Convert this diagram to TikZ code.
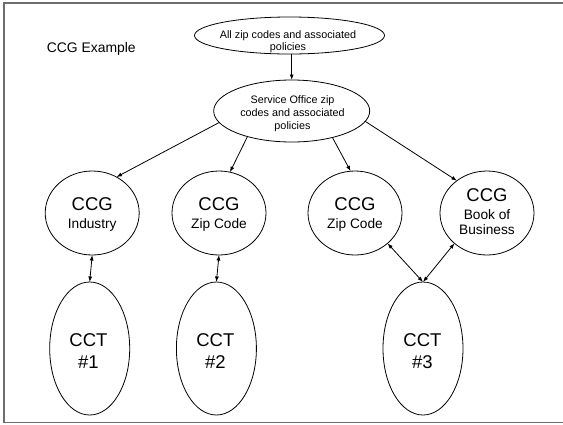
\documentclass[tikz,border=0pt]{standalone}
\usepackage{fontspec}
\setmainfont{Liberation Sans}
\usetikzlibrary{shapes.geometric,arrows.meta}
\definecolor{framecol}{RGB}{110,110,110}
\begin{document}
\begin{tikzpicture}[x=1pt,y=-1pt,
  outline/.style={draw, ellipse, line width=0.8pt, inner sep=0pt, outer sep=0pt},
  ccgshape/.style={outline, minimum width=94pt, minimum height=84pt},
  cctshape/.style={outline, minimum width=80pt, minimum height=133pt},
  lbl/.style={align=center, inner sep=0pt},
  ccgtext/.style={lbl, font=\fontsize{13.7}{18}\selectfont},
  big/.style={font=\fontsize{18.5}{18}\selectfont},
  tip/.style={Latex[length=5.5pt,width=4pt]},
  link/.style={line width=0.8pt, -{Latex[length=5.5pt,width=4pt]}},
  twoway/.style={line width=0.8pt, {Latex[length=5.5pt,width=4pt]}-{Latex[length=5.5pt,width=4pt]}},
]
\useasboundingbox (0,0) rectangle (563,424);
% outer frame
\draw[framecol, line width=1.6pt] (4,2.7) rectangle (566,422.3);

% title
\node[anchor=base west, inner sep=0pt, font=\fontsize{13.9}{16}\selectfont] (title) at (46.7,52) {CCG Example};

% top level
\node[outline, minimum width=190pt, minimum height=37pt] (all) at (289.5,35.5) {};
\node[lbl, font=\fontsize{10.8}{12.4}\selectfont] (allt) at (288,41.9) {All zip codes and associated\\policies};

\node[outline, minimum width=156pt, minimum height=62pt] (svc) at (291.7,111) {};
\node[lbl, font=\fontsize{10.8}{13.3}\selectfont] (svct) at (292.5,113.7) {Service Office zip\\codes and associated\\policies};

% CCG groups
\node[ccgshape] (ind)  at (92.2,213) {};
\node[ccgshape] (zipa) at (219,213) {};
\node[ccgshape] (zipb) at (355,213) {};
\node[ccgshape] (book) at (487,213) {};

\node[ccgtext] (indt)  at (92.2,214.7) {{\fontsize{18.5}{18}\selectfont CCG}\\Industry};
\node[ccgtext] (zipat) at (219,214.7) {{\fontsize{18.5}{18}\selectfont CCG}\\Zip Code};
\node[ccgtext] (zipbt) at (355,214.7) {{\fontsize{18.5}{18}\selectfont CCG}\\Zip Code};
\node[lbl, font=\fontsize{13.7}{15.7}\selectfont] (bookt) at (487,211.7) {{\fontsize{18.5}{15.7}\selectfont CCG}\\[1.9pt]Book of\\Business};

% CCT teams
\node[cctshape] (cct1) at (89.7,348.5) {};
\node[cctshape] (cct2) at (216.4,348.5) {};
\node[cctshape] (cct3) at (423,348.5) {};

\node[lbl, font=\fontsize{18.5}{22.3}\selectfont] (cct1t) at (88.5,351.1) {CCT\\\#1};
\node[lbl, font=\fontsize{18.5}{22.3}\selectfont] (cct2t) at (215.4,351.1) {CCT\\\#2};
\node[lbl, font=\fontsize{18.5}{22.3}\selectfont] (cct3t) at (422.5,351.1) {CCT\\\#3};

% connectors
\draw[link] (all.south -| svc.north) -- (svc.north);
\draw[link] (svc.189) -- (ind.56.7);
\draw[link] (svc.210.5) -- (zipa.75.2);
\draw[link] (svc.327.5) -- (zipb.96.8);
\draw[link] (svc.352) -- (book.133.8);

\draw[twoway] (ind.south) -- (cct1.north);
\draw[twoway] (zipa.south) -- (cct2.north);
\draw[twoway] (zipb.-43.3) -- (cct3.north);
\draw[twoway] (book.223) -- (cct3.north);
\end{tikzpicture}
\end{document}
